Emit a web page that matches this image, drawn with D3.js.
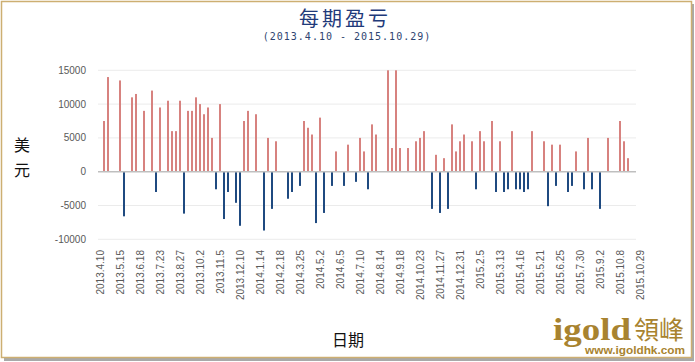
<!DOCTYPE html>
<html><head><meta charset="utf-8">
<script src="https://cdn.jsdelivr.net/npm/d3@7"></script>
<style>html,body{margin:0;padding:0;background:#fff;}svg{display:block;}</style>
</head><body>
<svg id="chart" width="695" height="362"></svg>
<script>
// ---- data ----
const tickLabels = ["2013.4.10","2013.5.15","2013.6.18","2013.7.23","2013.8.27","2013.10.2","2013.11.5","2013.12.10","2014.1.14","2014.2.18","2014.3.25","2014.5.2","2014.6.5","2014.7.10","2014.8.14","2014.9.18","2014.10.23","2014.11.27","2014.12.31","2015.2.5","2015.3.13","2015.4.16","2015.5.21","2015.6.25","2015.7.30","2015.9.2","2015.10.8","2015.10.29"];
const labelEvery = 5;
// weekly profit/loss (USD), one entry per period; null = no bar
const values = [null,
 7500,14000,null,null,13500,-6600,null,11000,11500,null,
 9000,null,12000,-3000,9500,null,10500,6000,6000,10500,
 -6200,9000,9000,11000,10000,8500,9500,5000,-2600,10000,
 -7000,-3000,null,-4600,-8000,7500,9000,null,8500,null,
 -8700,5000,-5500,4500,null,null,-4000,-3000,null,-2100,
 7500,6500,5500,-7600,8000,-6100,null,-2100,3000,null,
 -2100,4000,null,-1500,5000,3000,-2600,7000,5500,null,
 null,15000,3500,15000,3500,null,3500,null,4500,5000,
 6000,null,-5500,2500,-6100,2000,-5500,7000,3000,4500,
 5500,null,4500,-2600,6000,4500,null,7500,-3000,4500,
 -3000,-2600,6000,-2600,-2600,-3000,-2600,6000,null,null,
 4500,-5100,4000,-2100,4000,null,-3000,-2100,3000,null,
 -2600,5000,-2600,null,-5500,null,5000,null,null,7500,
 4500,2000,null,null,null];
const yTicks = [15000,10000,5000,0,-5000,-10000];
const categories = d3.range(values.length);

// ---- layout ----
const svg = d3.select("#chart");
const plotLeft = 98, plotRight = 636, plotTop = 70.3, plotBottom = 239.3;

// frame with shadow
svg.append("rect").attr("x",4).attr("y",4).attr("width",690).attr("height",357).attr("fill","#a9a9a9");
svg.append("rect").attr("x",1.5).attr("y",1.5).attr("width",690).attr("height",356)
  .attr("fill","#fff").attr("stroke","#CDAF72").attr("stroke-width",1.5);

const x = d3.scaleBand().domain(categories).range([plotLeft, plotLeft + categories.length*4]).paddingInner(0.5).paddingOuter(0.25);
const y = d3.scaleLinear().domain([-10000,15000]).range([plotBottom, plotTop]);

// gridlines
svg.append("g").selectAll("line").data(yTicks.filter(d=>d!==0)).join("line")
  .attr("x1",plotLeft).attr("x2",plotRight).attr("y1",d=>y(d)).attr("y2",d=>y(d))
  .attr("stroke","#EBEBEB").attr("stroke-width",1);

// y labels
svg.append("g").selectAll("text").data(yTicks).join("text")
  .attr("x",86).attr("y",d=>y(d)).attr("dy","0.35em").attr("text-anchor","end")
  .attr("font-family","Liberation Sans, Arial, sans-serif").attr("font-size",10).attr("fill","#595959")
  .text(d=>d);

// bars
svg.append("g").selectAll("rect").data(values.map((v,i)=>({i,v})).filter(d=>d.v!==null)).join("rect")
  .attr("x",d=>x(d.i)).attr("width",x.bandwidth())
  .attr("y",d=>y(Math.max(0,d.v))).attr("height",d=>Math.abs(y(d.v)-y(0)))
  .attr("fill",d=>d.v>=0?"#D7827F":"#1F4A80");

// zero line
svg.append("line").attr("x1",plotLeft).attr("x2",plotRight).attr("y1",y(0)).attr("y2",y(0))
  .attr("stroke","#BFBFBF").attr("stroke-width",1.5);

// x labels
svg.append("g").selectAll("text").data(tickLabels).join("text")
  .attr("transform",(d,k)=>`translate(${x(k*labelEvery)+x.bandwidth()/2},250) rotate(-90)`)
  .attr("dy","0.35em").attr("text-anchor","end")
  .attr("font-family","Liberation Sans, Arial, sans-serif").attr("font-size",10).attr("fill","#595959")
  .text(d=>d);

// titles
svg.append("text").attr("x",345).attr("y",26).attr("text-anchor","middle")
  .attr("font-family","Noto Sans CJK SC, sans-serif").attr("font-size",20).attr("letter-spacing",3)
  .attr("fill","#1F3A7A").text("每期盈亏");
svg.append("text").attr("x",347).attr("y",40).attr("text-anchor","middle")
  .attr("font-family","DejaVu Sans Mono, monospace").attr("font-size",10).attr("letter-spacing",1)
  .attr("fill","#2E4470").text("(2013.4.10 - 2015.10.29)");

// axis titles
svg.append("text").attr("x",22).attr("y",151).attr("text-anchor","middle")
  .attr("font-family","Noto Sans CJK SC, sans-serif").attr("font-size",16).attr("fill","#111").text("美");
svg.append("text").attr("x",22).attr("y",176).attr("text-anchor","middle")
  .attr("font-family","Noto Sans CJK SC, sans-serif").attr("font-size",16).attr("fill","#111").text("元");
svg.append("text").attr("x",348).attr("y",346).attr("text-anchor","middle")
  .attr("font-family","Noto Sans CJK SC, sans-serif").attr("font-size",16).attr("fill","#111").text("日期");

// logo
const gold = "#A8832F";
svg.append("text").attr("x",553).attr("y",340)
  .attr("font-family","Liberation Serif, DejaVu Serif, serif").attr("font-weight","bold").attr("font-size",32)
  .attr("textLength",78).attr("lengthAdjust","spacingAndGlyphs")
  .attr("fill",gold).text("igold");
svg.append("text").attr("x",634).attr("y",339)
  .attr("font-family","Noto Sans CJK TC, sans-serif").attr("font-size",25)
  .attr("fill",gold).text("領峰");
svg.append("text").attr("x",585).attr("y",354)
  .attr("font-family","Liberation Sans, Arial, sans-serif").attr("font-weight","bold").attr("font-size",10)
  .attr("textLength",100).attr("lengthAdjust","spacingAndGlyphs")
  .attr("fill",gold).text("www.igoldhk.com");
</script>
</body></html>
